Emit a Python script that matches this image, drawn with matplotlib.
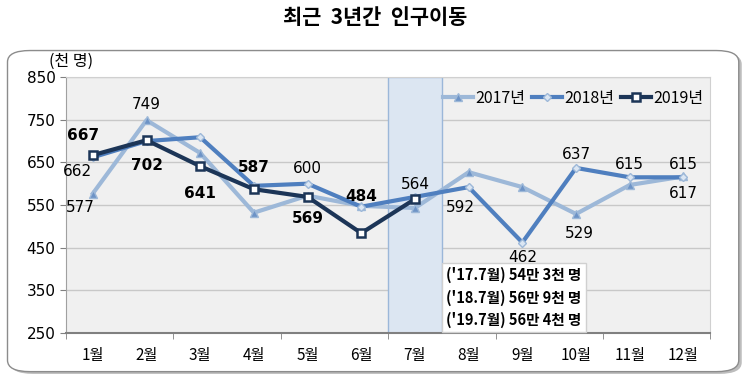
import matplotlib
matplotlib.use("Agg")
import matplotlib.pyplot as plt
from matplotlib.patches import FancyBboxPatch
from matplotlib.lines import Line2D

plt.rcParams["font.family"] = ["Noto Sans CJK KR", "DejaVu Sans"]

# ── data ───────────────────────────────────────────────────────────────────
months = ["1월", "2월", "3월", "4월", "5월", "6월", "7월", "8월", "9월", "10월", "11월", "12월"]
y2017 = [577, 749, 672, 532, 572, 548, 543, 627, 592, 529, 597, 617]
y2018 = [662, 700, 709, 595, 600, 546, 569, 592, 462, 637, 615, 615]
y2019 = [667, 702, 641, 587, 569, 484, 564]
yticks = [250, 350, 450, 550, 650, 750, 850]
note_lines = ["('17.7월) 54만 3천 명", "('18.7월) 56만 9천 명", "('19.7월) 56만 4천 명"]

# labels: (series, month index, pixel offset, bold)
labels = [
    (y2019, 0, (-10, 20), True), (y2018, 0, (-15, -14), False), (y2017, 0, (-13, -14), False),
    (y2017, 1, (0, 16), False), (y2019, 1, (0, -25), True), (y2019, 2, (0, -27), True),
    (y2019, 3, (0, 22), True), (y2018, 4, (0, 15), False), (y2019, 4, (0, -22), True),
    (y2019, 5, (0, 37), True), (y2019, 6, (0, 15), False), (y2018, 7, (-8, -20), False),
    (y2018, 8, (0, -15), False), (y2018, 9, (0, 13), False), (y2017, 9, (3, -20), False),
    (y2018, 10, (0, 13), False), (y2018, 11, (0, 13), False), (y2017, 11, (0, -17), False),
]

c17, c18, c19 = "#9db8d8", "#4f7fbf", "#1c3557"

fig = plt.figure(figsize=(7.5, 3.8), dpi=100)

# outer rounded frame with shadow
shadow = FancyBboxPatch((0.014, 0.016), 0.975, 0.845, boxstyle="round,pad=0,rounding_size=0.03",
                        transform=fig.transFigure, facecolor="#bdbdbd", edgecolor="none", zorder=-2)
frame = FancyBboxPatch((0.010, 0.022), 0.975, 0.845, boxstyle="round,pad=0,rounding_size=0.03",
                       transform=fig.transFigure, facecolor="white", edgecolor="#8c8c8c", lw=1.0, zorder=-1)
fig.patches.extend([shadow, frame])

fig.text(0.5, 0.955, "최근  3년간  인구이동", ha="center", va="center", fontsize=15, weight="bold")

ax = fig.add_axes([0.088, 0.124, 0.859, 0.673])
ax.set_facecolor("#f0f0f0")
x = list(range(len(months)))

# highlighted July column
ax.axvspan(5.5, 6.5, facecolor="#dce6f2", edgecolor="#9bb7d9", lw=1.0, zorder=1)

ax.plot(x, y2017, color=c17, lw=3, marker="^", ms=6, mfc="#6d93c6", mec=c17, zorder=3,
        label="2017년")
ax.plot(x, y2018, color=c18, lw=3, marker="D", ms=4.5, mfc="#dbe6f3", mec="#9db8d8", zorder=4,
        label="2018년")
ax.plot(x[:len(y2019)], y2019, color=c19, lw=3, marker="s", ms=5.5, mfc="white", mec=c19,
        mew=1.8, zorder=5, label="2019년")

for series, i, off, bold in labels:
    ax.annotate(str(series[i]), (i, series[i]), xytext=off, textcoords="offset pixels",
                ha="center", va="center", fontsize=11, family="DejaVu Sans",
                weight="bold" if bold else "normal", zorder=6)

ax.set_xlim(-0.5, 11.5)
ax.set_ylim(250, 850)
ax.set_yticks(yticks)
ax.set_xticks(x)
ax.set_xticklabels(months)
ax.set_xticks([-0.5 + 2 * k for k in range(7)], minor=True)
ax.tick_params(axis="x", which="major", length=0, pad=10, labelsize=11)
ax.tick_params(axis="x", which="minor", length=4, color="#808080")
ax.tick_params(axis="y", length=4, color="#808080", labelsize=11)
for lab in ax.get_yticklabels():
    lab.set_family("DejaVu Sans")
ax.grid(axis="y", color="#c8c8c8", lw=1.0, zorder=0)
ax.set_axisbelow(True)
for side in ["top", "right"]:
    ax.spines[side].set_color("#d0d0d0")
ax.spines["left"].set_color("#a0a0a0")
ax.spines["bottom"].set_color("#808080")
ax.spines["bottom"].set_linewidth(1.5)

ax.text(-0.82, 866, "(천 명)", fontsize=11.5, ha="left", va="bottom", clip_on=False)

ax.text(6.58, 404, "\n".join(note_lines), ha="left", va="top", fontsize=10.5, weight="bold",
        linespacing=1.45, zorder=7,
        bbox=dict(boxstyle="square,pad=0.3", facecolor="white", edgecolor="#d0d0d0"))

handles = [
    Line2D([], [], color=c17, lw=3, marker="^", ms=6, mfc="#6d93c6", mec=c17),
    Line2D([], [], color=c18, lw=3, marker="D", ms=4.5, mfc="#dbe6f3", mec="#9db8d8"),
    Line2D([], [], color=c19, lw=3, marker="s", ms=5.5, mfc="white", mec=c19, mew=1.8),
]
ax.legend(handles, ["2017년", "2018년", "2019년"], loc="upper right", ncol=3, frameon=False,
          fontsize=11.5, handlelength=1.9, handletextpad=0.15, columnspacing=0.4,
          bbox_to_anchor=(1.01, 1.0), borderaxespad=0.4)

fig.savefig("out.png", dpi=100)
